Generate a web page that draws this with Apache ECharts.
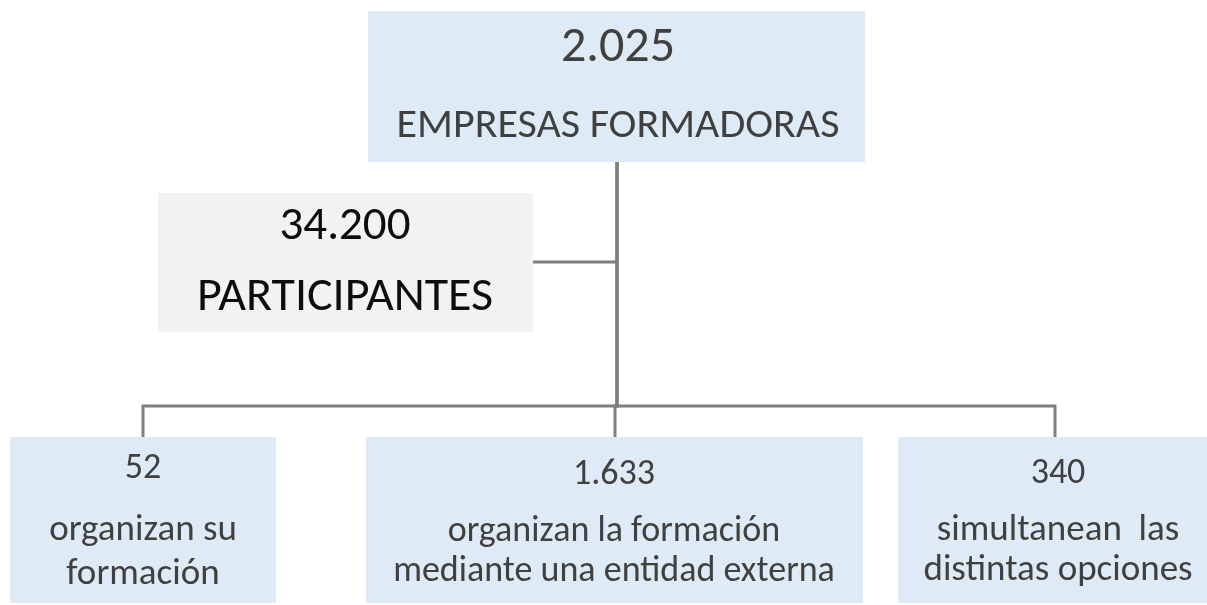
<!DOCTYPE html>
<html>
<head>
<meta charset="utf-8">
<script src="https://cdn.jsdelivr.net/npm/echarts@6/dist/echarts.min.js"></script>
<style>html,body{margin:0;padding:0;background:#fff}#c{width:1207px;height:605px}</style>
</head>
<body>
<div id="c"></div>
<script>
// ---- data ----
const boxNames = ['empresas', 'participantes', 'propia', 'externa', 'ambas'];
const boxValues = ['2.025', '34.200', '52', '1.633', '340'];
const boxLabels = [
  ['EMPRESAS FORMADORAS'],
  ['PARTICIPANTES'],
  ['organizan su', 'formación'],
  ['organizan la formación', 'mediante una entidad externa'],
  ['simultanean  las', 'distintas opciones']
];
// links: parent -> child
const links = [['empresas', 'participantes'], ['empresas', 'propia'], ['empresas', 'externa'], ['empresas', 'ambas']];

// ---- layout (pixel space of a hidden 1207x605 grid) ----
const W = 1207, H = 605;
const layout = {
  empresas:      {rect: [368, 11, 865, 162], fill: '#DEEAF6', color: '#404040', valueSize: 50, labelSize: 42, valueBase: 63, lineBase: [139], cx: 618},
  participantes: {rect: [158, 193, 533, 332], fill: '#F2F2F2', color: '#0d0d0d', valueSize: 47, labelSize: 48, valueBase: 241, lineBase: [312], cx: 345},
  propia:        {rect: [10, 437, 276, 603], fill: '#DEEAF6', color: '#404040', valueSize: 36, labelSize: 37, valueBase: 479, lineBase: [541, 585], cx: 143},
  externa:       {rect: [366, 437, 863, 603], fill: '#DEEAF6', color: '#404040', valueSize: 36, labelSize: 36, valueBase: 485, lineBase: [542, 582], cx: 614},
  ambas:         {rect: [898, 437, 1207, 603], fill: '#DEEAF6', color: '#404040', valueSize: 36, labelSize: 37, valueBase: 484, lineBase: [541, 581], cx: 1058}
};
const connectorStyle = {color: '#7F7F7F', width: 3};
const busY = 406, sideY = 262, trunkX = 617;
const BASE_OFF = 0.29;

const FONT = 'Carlito, Lato, "Open Sans", sans-serif';

function connectorPath(parent, child) {
  const p = layout[parent], c = layout[child];
  if (child === 'participantes') {
    return [[c.rect[2], sideY], [trunkX, sideY]];
  }
  const x = child === 'externa' ? 615 : (child === 'propia' ? 143 : 1055);
  return [[trunkX, p.rect[3]], [trunkX, busY], [x, busY], [x, c.rect[1]]];
}

const chart = echarts.init(document.getElementById('c'), null, {renderer: 'canvas'});

chart.setOption({
  animation: false,
  backgroundColor: '#ffffff',
  grid: {left: 0, right: 0, top: 0, bottom: 0},
  xAxis: {type: 'value', min: 0, max: W, show: false},
  yAxis: {type: 'value', min: 0, max: H, inverse: true, show: false},
  series: [
    {
      type: 'lines',
      coordinateSystem: 'cartesian2d',
      polyline: true,
      silent: true,
      z: 1,
      lineStyle: {color: connectorStyle.color, width: connectorStyle.width, opacity: 1},
      data: links.map(l => ({coords: connectorPath(l[0], l[1])}))
    },
    {
      type: 'custom',
      coordinateSystem: 'cartesian2d',
      z: 2,
      data: boxNames.map((n, i) => [i]),
      renderItem: function (params, api) {
        const i = api.value(0);
        const name = boxNames[i];
        const L = layout[name];
        const p0 = api.coord([L.rect[0], L.rect[1]]);
        const p1 = api.coord([L.rect[2], L.rect[3]]);
        const children = [{
          type: 'rect',
          shape: {x: p0[0], y: p0[1], width: p1[0] - p0[0], height: p1[1] - p0[1]},
          style: {fill: L.fill}
        }];
        const vpos = api.coord([L.cx, L.valueBase]);
        children.push({
          type: 'text',
          style: {
            text: boxValues[i], x: vpos[0], y: vpos[1] - BASE_OFF * L.valueSize,
            font: L.valueSize + 'px ' + FONT, fill: L.color,
            align: 'center', verticalAlign: 'middle'
          }
        });
        boxLabels[i].forEach((t, k) => {
          const pos = api.coord([L.cx, L.lineBase[k]]);
          children.push({
            type: 'text',
            style: {
              text: t, x: pos[0], y: pos[1] - BASE_OFF * L.labelSize,
              font: L.labelSize + 'px ' + FONT, fill: L.color,
              align: 'center', verticalAlign: 'middle'
            }
          });
        });
        return {type: 'group', children: children};
      }
    }
  ]
});
</script>
</body>
</html>
